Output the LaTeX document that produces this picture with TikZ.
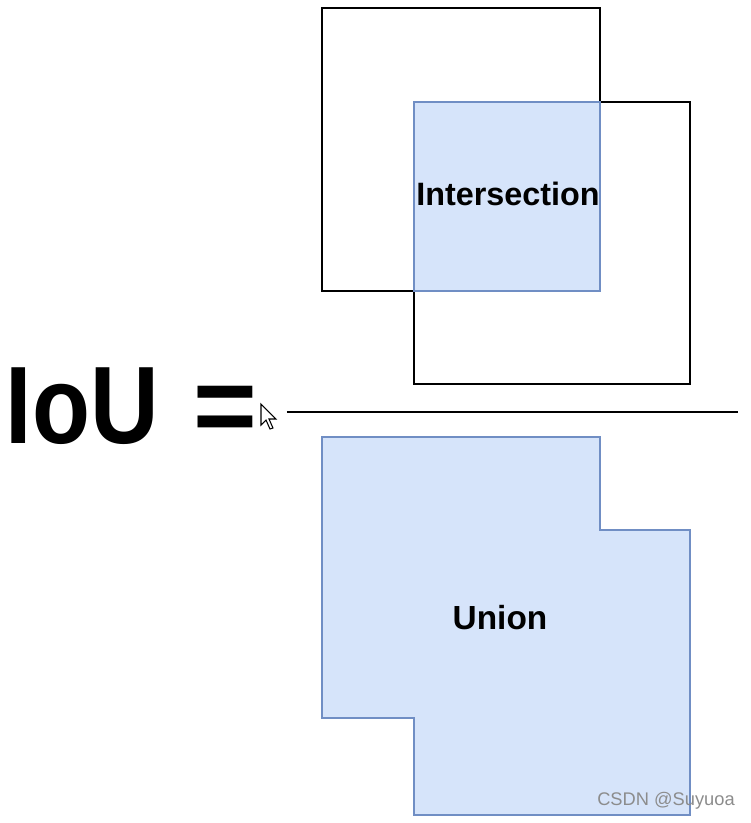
\documentclass[tikz,border=0pt]{standalone}
\usepackage{fontspec}
\setmainfont{Liberation Sans}
\usepackage{xcolor}
\usepackage{graphicx}
\usetikzlibrary{positioning}
\definecolor{boxfill}{RGB}{214,228,250}
\definecolor{boxline}{RGB}{112,142,196}

\begin{document}
\begin{tikzpicture}[
    x=0.01cm, y=-0.01cm,
    frame/.style={draw=black, line width=0.45pt},
    area/.style={fill=boxfill, draw=boxline, line width=0.45pt},
    label/.style={font=\fontsize{9.5}{11}\selectfont\bfseries, inner sep=0pt}
]
    \useasboundingbox (0,0) rectangle (750,823);

    % Top boxes
    \draw[frame] (322,8) rectangle (600,291);
    \draw[frame] (414,102) rectangle (690,384);
    \draw[area] (414,102) rectangle (600,291);
    \node[label, font=\fontsize{9.2}{11}\selectfont\bfseries] (inter) at (508,194) {Intersection};

    % Fraction
    \node[anchor=base west, inner sep=0pt, font=\fontsize{27}{30}\selectfont\bfseries] (iou) at (5,443)
        {\scalebox{1}[1.16]{IoU\hspace{10pt}\scalebox{1.15}[1]{=}}};
    \coordinate (barL) at (287,412);
    \coordinate (barR) at (738,412);
    \draw[line width=0.6pt] (barL) -- (barR);

    % Cursor
    \draw[fill=white, line width=0.3pt] (261,404) -- (261,425) -- (266,420) -- (270,429)
        -- (273,428) -- (269,419) -- (276,419) -- cycle;

    % Bottom union
    \draw[area] (322,437) -- (600,437) -- (600,530) -- (690,530) -- (690,815)
        -- (414,815) -- (414,718) -- (322,718) -- cycle;
    \node[label] (union) at (500,618) {Union};

    \node[text=black!45, font=\fontsize{5.2}{6}\selectfont, inner sep=0pt] (mark) at (666,801) {CSDN @Suyuoa};
\end{tikzpicture}
\end{document}
